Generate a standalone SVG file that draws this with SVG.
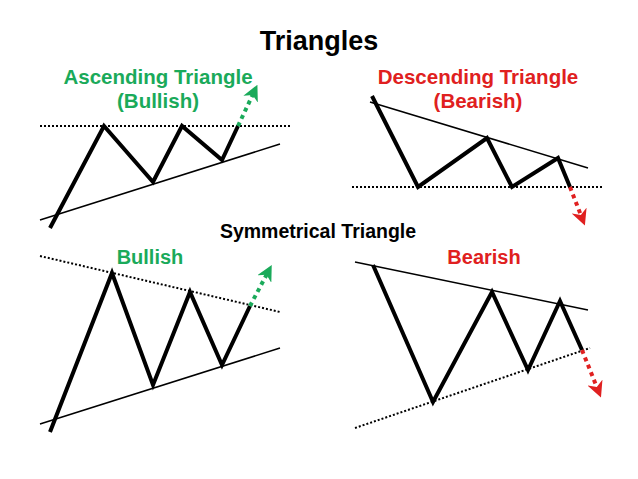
<svg xmlns="http://www.w3.org/2000/svg" width="638" height="479" viewBox="0 0 638 479">
<style>
.t{font-family:"Liberation Sans",Arial,sans-serif;font-weight:bold;text-anchor:middle}
.p{fill:none;stroke:#000;stroke-width:4;stroke-linejoin:miter}
.l{stroke:#000;stroke-width:1.5}
.d{stroke:#000;stroke-width:2;stroke-dasharray:2 2}
.ga{stroke:#1aaa5a;stroke-width:4;stroke-dasharray:4 4;fill:none}
.ra{stroke:#e02020;stroke-width:4;stroke-dasharray:4 4;fill:none}
</style>
<defs>
<marker id="gh" viewBox="0 0 10 10" refX="5" refY="5" markerWidth="4" markerHeight="4" orient="auto" markerUnits="strokeWidth"><path d="M0,0L10,5L0,10L3,5Z" fill="#1aaa5a"/></marker>
<marker id="rh" viewBox="0 0 10 10" refX="5" refY="5" markerWidth="4" markerHeight="4" orient="auto" markerUnits="strokeWidth"><path d="M0,0L10,5L0,10L3,5Z" fill="#e02020"/></marker>
</defs>
<rect width="638" height="479" fill="#fff"/>
<text class="t" x="319" y="50" font-size="27">Triangles</text>
<text class="t" x="158" y="84" font-size="20.5" fill="#1aaa5a">Ascending Triangle</text>
<text class="t" x="158" y="108" font-size="20.5" fill="#1aaa5a">(Bullish)</text>
<text class="t" x="478" y="84" font-size="20.5" fill="#e02020">Descending Triangle</text>
<text class="t" x="478" y="108" font-size="20.5" fill="#e02020">(Bearish)</text>
<text class="t" x="318" y="238" font-size="19.5">Symmetrical Triangle</text>
<text class="t" x="150" y="264" font-size="20" fill="#1aaa5a">Bullish</text>
<text class="t" x="484" y="264" font-size="20" fill="#e02020">Bearish</text>
<g id="asc">
<line class="d" x1="40" y1="126" x2="292" y2="126"/>
<line class="l" x1="40" y1="220" x2="280" y2="144"/>
<polyline class="p" points="50,228 104,126 153,182 182,126 222,160 238,126"/>
<line class="ga" x1="238" y1="126" x2="254" y2="92" marker-end="url(#gh)"/>
</g>
<g id="desc">
<line class="d" x1="352" y1="187" x2="604" y2="187"/>
<line class="l" x1="370" y1="102" x2="588" y2="168"/>
<polyline class="p" points="372,96 418,187 487,138 512,187 558,158 570,187"/>
<line class="ra" x1="570" y1="187" x2="582" y2="218" marker-end="url(#rh)"/>
</g>
<g id="symbull">
<line class="d" x1="40" y1="256" x2="280" y2="312"/>
<line class="l" x1="40" y1="424" x2="280" y2="348"/>
<polyline class="p" points="50,432 112,273 153,385 190,292 222,365 250,306"/>
<line class="ga" x1="250" y1="306" x2="268" y2="272" marker-end="url(#gh)"/>
</g>
<g id="symbear">
<line class="l" x1="355" y1="262" x2="588" y2="310"/>
<line class="d" x1="355" y1="428" x2="590" y2="348"/>
<polyline class="p" points="373,265 433,402 492,292 528,370 560,301 582,350"/>
<line class="ra" x1="582" y1="350" x2="598" y2="390" marker-end="url(#rh)"/>
</g>
</svg>
